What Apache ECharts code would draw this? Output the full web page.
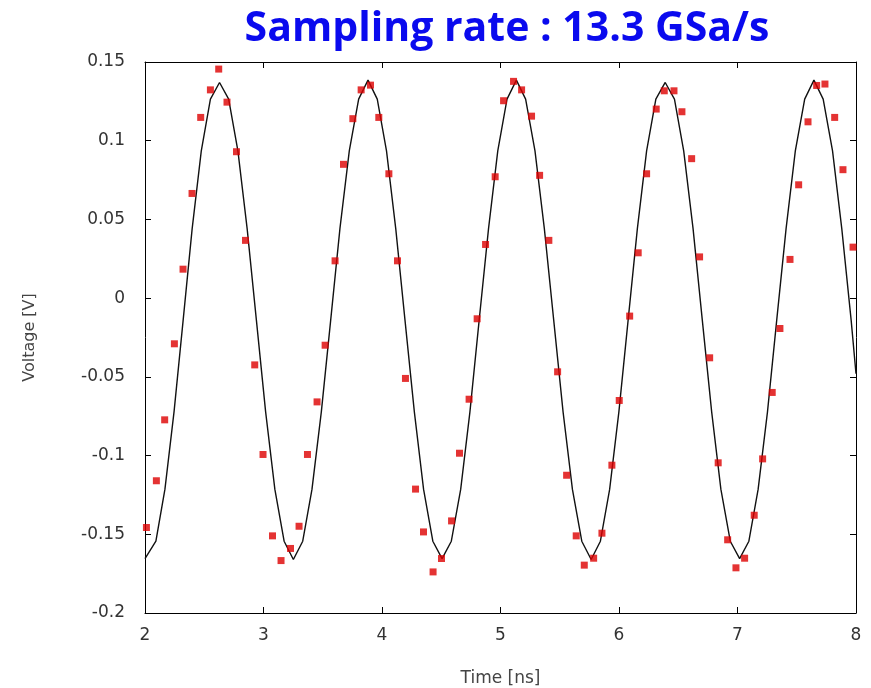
<!DOCTYPE html>
<html>
<head>
<meta charset="utf-8">
<script src="https://cdn.jsdelivr.net/npm/echarts@6/dist/echarts.min.js"></script>
<style>html,body{margin:0;padding:0;background:#fff}#c{width:871px;height:688px}</style>
</head>
<body>
<div id="c"></div>
<script>
// Sampled points (red squares): time [ns] and voltage [V]
const sampleT = [2.012,2.096,2.166,2.248,2.321,2.397,2.470,2.552,2.622,2.692,2.772,2.848,2.926,2.996,3.076,3.148,3.228,3.300,3.371,3.452,3.520,3.604,3.675,3.754,3.824,3.903,3.973,4.058,4.131,4.198,4.283,4.350,4.431,4.502,4.587,4.654,4.735,4.803,4.874,4.955,5.026,5.110,5.178,5.262,5.330,5.408,5.482,5.558,5.639,5.707,5.786,5.856,5.940,6.002,6.090,6.162,6.233,6.314,6.382,6.464,6.531,6.613,6.680,6.765,6.837,6.917,6.987,7.060,7.141,7.212,7.293,7.358,7.443,7.516,7.595,7.668,7.738,7.820,7.890,7.975];
const sampleV = [-0.1457,-0.116,-0.0773,-0.029,0.0184,0.0665,0.1148,0.1323,0.1455,0.1245,0.093,0.0367,-0.0424,-0.0993,-0.151,-0.1667,-0.159,-0.1449,-0.0993,-0.0659,-0.0299,0.0237,0.085,0.114,0.1323,0.1353,0.1148,0.079,0.0237,-0.051,-0.1213,-0.1485,-0.1739,-0.1654,-0.1415,-0.0985,-0.0642,-0.0131,0.0341,0.0771,0.1254,0.1377,0.1323,0.1156,0.078,0.0367,-0.0468,-0.1125,-0.151,-0.1696,-0.1652,-0.1493,-0.1061,-0.065,-0.0114,0.0288,0.079,0.1201,0.1317,0.1317,0.1184,0.0886,0.0262,-0.0379,-0.1046,-0.1535,-0.1713,-0.1652,-0.1379,-0.1021,-0.0599,-0.0193,0.0246,0.0720,0.1120,0.1351,0.136,0.1148,0.0816,0.0324];

// Reference waveform (black line)
const lineT = [2.000,2.015,2.092,2.168,2.245,2.322,2.398,2.475,2.552,2.629,
  2.706,2.784,2.862,2.940,3.018,3.096,3.174,3.252,
  3.331,3.409,3.488,3.567,3.645,3.724,3.803,3.882,
  3.960,4.038,4.116,4.194,4.273,4.351,4.429,4.507,
  4.585,4.664,4.742,4.820,4.899,4.977,5.055,5.134,
  5.212,5.291,5.370,5.449,5.528,5.607,5.686,5.765,
  5.843,5.921,5.999,6.077,6.155,6.233,6.311,6.390,
  6.468,6.546,6.625,6.703,6.782,6.860,6.939,7.018,
  7.096,7.174,7.253,7.331,7.410,7.488,7.567,7.645,
  7.723,7.802,7.880,7.959,8.000];
const lineV = [-0.1655,-0.166,-0.1544,-0.1215,-0.0722,-0.014,0.0442,0.0935,0.1264,0.137,
  0.1264,0.0935,0.0442,-0.014,-0.0722,-0.1215,-0.1544,-0.166,
  -0.1544,-0.1215,-0.0722,-0.014,0.0442,0.0935,0.1264,0.1385,
  0.1264,0.0935,0.0442,-0.014,-0.0722,-0.1215,-0.1544,-0.1655,
  -0.1544,-0.1215,-0.0722,-0.014,0.0442,0.0935,0.1264,0.1385,
  0.1264,0.0935,0.0442,-0.014,-0.0722,-0.1215,-0.1544,-0.166,
  -0.1544,-0.1215,-0.0722,-0.014,0.0442,0.0935,0.1264,0.137,
  0.1264,0.0935,0.0442,-0.014,-0.0722,-0.1215,-0.1544,-0.1655,
  -0.1544,-0.1215,-0.0722,-0.014,0.0442,0.0935,0.1264,0.1385,
  0.1264,0.0935,0.0442,-0.014,-0.048];

const xTicks = [2,3,4,5,6,7,8];
const yTickLabels = ['-0.2','-0.15','-0.1','-0.05','0','0.05','0.1','0.15'];

const chart = echarts.init(document.getElementById('c'), null, {renderer:'canvas'});
const labelFont = {fontFamily:'DejaVu Sans', fontSize:17, color:'#333'};
const axisLine = {show:true, onZero:false, lineStyle:{color:'#000', width:1}};
const tick = {show:true, inside:true, length:6, lineStyle:{color:'#000'}};
const yFmt = v => { const i = Math.round((v + 0.2) / 0.05); return yTickLabels[i] !== undefined ? yTickLabels[i] : ''; };

chart.setOption({
  animation:false,
  backgroundColor:'#fff',
  title:{
    text:'Sampling rate : 13.3 GSa/s',
    left:502, top:4, textAlign:'center',
    textStyle:{fontFamily:'Open Sans', fontWeight:'bold', fontSize:41, color:'#0a0aee'}
  },
  grid:{left:145, right:15, top:62, bottom:75, show:false, containLabel:false, outerBoundsMode:'none'},
  xAxis:[
    {type:'value', min:xTicks[0], max:xTicks[xTicks.length-1], interval:1, position:'bottom',
     axisLine:axisLine, axisTick:tick, splitLine:{show:false},
     axisLabel:Object.assign({margin:14}, labelFont),
     name:'Time [ns]', nameLocation:'middle', nameGap:57,
     nameTextStyle:{fontFamily:'DejaVu Sans', fontSize:17, color:'#444'}},
    {type:'value', min:2, max:8, interval:1, position:'top',
     axisLine:axisLine, axisTick:tick, splitLine:{show:false}, axisLabel:{show:false}}
  ],
  yAxis:[
    {type:'value', min:-0.2, max:0.15, interval:0.05, position:'left',
     axisLine:axisLine, axisTick:tick, splitLine:{show:false},
     axisLabel:Object.assign({margin:20, formatter:yFmt}, labelFont),
     name:'Voltage [V]', nameLocation:'middle', nameGap:107,
     nameTextStyle:{fontFamily:'DejaVu Sans', fontSize:16, color:'#444'}},
    {type:'value', min:-0.2, max:0.15, interval:0.05, position:'right',
     axisLine:axisLine, axisTick:tick, splitLine:{show:false}, axisLabel:{show:false}}
  ],
  series:[
    {type:'line', xAxisIndex:0, yAxisIndex:0, showSymbol:false, symbol:'none',
     lineStyle:{color:'#111', width:1.4}, data: lineT.map((t,i)=>[t, lineV[i]]), z:2},
    {type:'scatter', xAxisIndex:0, yAxisIndex:0, symbol:'rect', symbolSize:7,
     itemStyle:{color:'#dd0000'}, data: sampleT.map((t,i)=>[t, sampleV[i]]), z:3}
  ]
});
</script>
</body>
</html>
